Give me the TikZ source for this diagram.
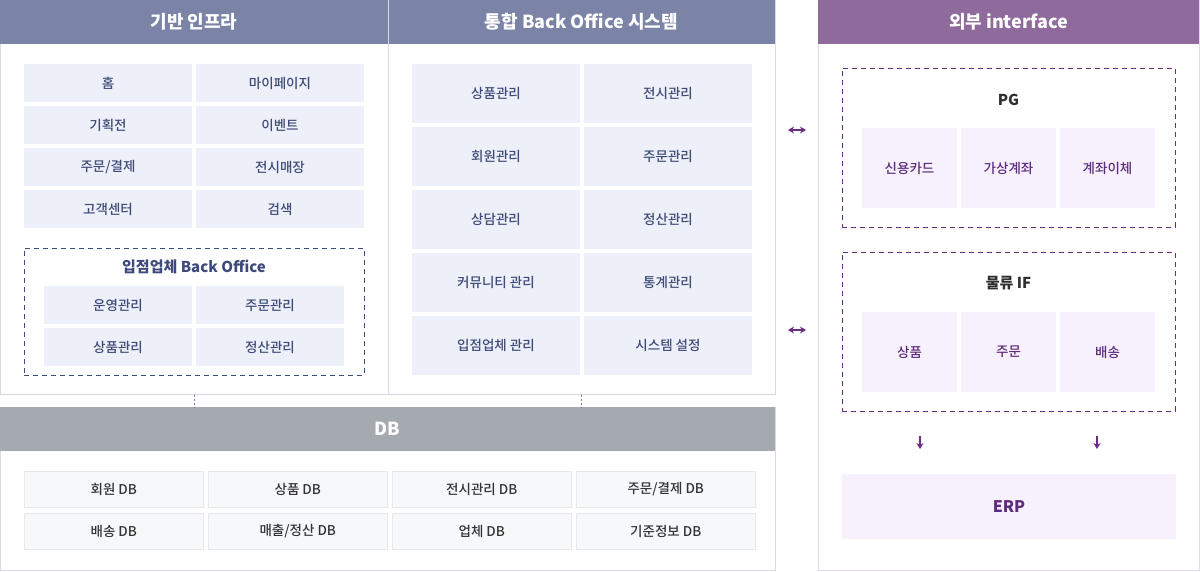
\documentclass[tikz,border=0pt]{standalone}
\usepackage{fontspec}
\setmainfont{Noto Sans CJK KR}
\newfontfamily\medfont{Noto Sans CJK KR Medium}
\usetikzlibrary{arrows.meta}
\definecolor{headnavy}{HTML}{7B84A6}
\definecolor{panelline}{HTML}{D6DAE4}
\definecolor{itemfill}{HTML}{EDF0F9}
\definecolor{itemtext}{HTML}{3F4B78}
\definecolor{groupnavy}{HTML}{3E4A7C}
\definecolor{dbhead}{HTML}{A5A9B0}
\definecolor{dbfill}{HTML}{F7F8FA}
\definecolor{dbline}{HTML}{E6E8EC}
\definecolor{dbtext}{HTML}{333333}
\definecolor{ifhead}{HTML}{8F6A9C}
\definecolor{ifpanel}{HTML}{E2D8EA}
\definecolor{iffill}{HTML}{F6F1FC}
\definecolor{iftext}{HTML}{5E2B7E}
\definecolor{ifline}{HTML}{6B2C85}
\definecolor{titledark}{HTML}{303030}

\begin{document}
\begin{tikzpicture}[x=1pt,y=-1pt,
  every node/.style={inner sep=0pt,font=\fontsize{13.5}{15}\medfont},
  panel/.style={draw=#1,line width=1pt,fill=white},
  head/.style={fill=#1,text=white,font=\fontsize{18}{20}\selectfont\bfseries},
  item/.style={fill=itemfill,text=itemtext,minimum width=168,minimum height=38},
  tall/.style={item,minimum height=59},
  group/.style={draw=#1,line width=1pt,dash pattern=on 5pt off 4pt},
  grouptitle/.style={text=#1,font=\fontsize{15}{17}\selectfont\bfseries},
  dbitem/.style={fill=dbfill,draw=dbline,text=dbtext,minimum width=178.5,minimum height=36},
  ifitem/.style={fill=iffill,text=iftext,minimum width=95,minimum height=80},
  link/.style={draw=groupnavy!70,line width=1pt,dash pattern=on 2pt off 2pt},
  flow/.style={draw=ifline,line width=1.3pt,-{Stealth[length=6pt,width=7pt]}},
  both/.style={flow,{Stealth[length=6pt,width=7pt]}-{Stealth[length=6pt,width=7pt]}}]

  \useasboundingbox (0,0) rectangle (1200,571);

  % 기반 인프라 / 통합 Back Office
  \node[panel=panelline,minimum width=387.5,minimum height=393.5] (infra) at (194.25,197.25) {};
  \node[panel=panelline,minimum width=387,minimum height=393.5] (bo) at (581.5,197.25) {};
  \node[head=headnavy,minimum width=388,minimum height=44] (infrahead) at (194,22) {기반 인프라};
  \node[head=headnavy,minimum width=387,minimum height=44] (bohead) at (581.5,22) {통합 Back Office 시스템};
  \draw[panelline,line width=1pt] (infrahead.north east) -- (infrahead.south east);

  \node[item] (home) at (108,83) {홈};
  \node[item] (mypage) at (280,83) {마이페이지};
  \node[item] (plan) at (108,125) {기획전};
  \node[item] (event) at (280,125) {이벤트};
  \node[item] (order) at (108,167) {주문/결제};
  \node[item] (shop) at (280,167) {전시매장};
  \node[item] (cs) at (108,209) {고객센터};
  \node[item] (search) at (280,209) {검색};

  \node[group=groupnavy,minimum width=340,minimum height=127] (vendor) at (194,311.5) {};
  \node[grouptitle=groupnavy] (vendortitle) at (194,267) {입점업체 Back Office};
  \node[item,minimum width=148] (vops) at (118,305) {운영관리};
  \node[item,minimum width=148] (vorder) at (270,305) {주문관리};
  \node[item,minimum width=148] (vgoods) at (118,347) {상품관리};
  \node[item,minimum width=148] (vcalc) at (270,347) {정산관리};

  \node[tall] (goods) at (496,93.5) {상품관리};
  \node[tall] (display) at (668,93.5) {전시관리};
  \node[tall] (member) at (496,156.5) {회원관리};
  \node[tall] (orders) at (668,156.5) {주문관리};
  \node[tall] (counsel) at (496,219.5) {상담관리};
  \node[tall] (calc) at (668,219.5) {정산관리};
  \node[tall] (community) at (496,282.5) {커뮤니티 관리};
  \node[tall] (stats) at (668,282.5) {통계관리};
  \node[tall] (vendors) at (496,345.5) {입점업체 관리};
  \node[tall] (system) at (668,345.5) {시스템 설정};

  % DB
  \node[panel=panelline,minimum width=774.5,minimum height=163] (db) at (387.75,488.5) {};
  \node[head=dbhead,minimum width=775,minimum height=44] (dbheader) at (387.5,429) {DB};
  \draw[link] (infra.south) -- (infra.south |- dbheader.north);
  \draw[link] (bo.south) -- (bo.south |- dbheader.north);

  \node[dbitem] (memberdb) at (113.75,489.5) {회원 DB};
  \node[dbitem] (goodsdb) at (297.75,489.5) {상품 DB};
  \node[dbitem] (displaydb) at (481.75,489.5) {전시관리 DB};
  \node[dbitem] (orderdb) at (665.75,489.5) {주문/결제 DB};
  \node[dbitem] (shipdb) at (113.75,531.5) {배송 DB};
  \node[dbitem] (salesdb) at (297.75,531.5) {매출/정산 DB};
  \node[dbitem] (vendordb) at (481.75,531.5) {업체 DB};
  \node[dbitem] (basedb) at (665.75,531.5) {기준정보 DB};

  % 외부 interface
  \node[panel=ifpanel,minimum width=380.5,minimum height=569.5] (ext) at (1008.75,285.25) {};
  \node[head=ifhead,minimum width=381,minimum height=44] (exthead) at (1008.5,22) {외부 interface};

  \node[group=ifline,minimum width=333,minimum height=159] (pg) at (1008.5,147.5) {};
  \node[grouptitle=titledark] (pgtitle) at (1008.5,100) {PG};
  \node[ifitem] (card) at (909.5,168) {신용카드};
  \node[ifitem] (vaccount) at (1008.5,168) {가상계좌};
  \node[ifitem] (transfer) at (1107.5,168) {계좌이체};

  \node[group=ifline,minimum width=333,minimum height=159] (logis) at (1008.5,331.5) {};
  \node[grouptitle=titledark] (logistitle) at (1008.5,283) {물류 IF};
  \node[ifitem] (lgoods) at (909.5,352) {상품};
  \node[ifitem] (lorder) at (1008.5,352) {주문};
  \node[ifitem] (lship) at (1107.5,352) {배송};

  \node[fill=iffill,text=iftext,minimum width=334,minimum height=65,font=\fontsize{16}{18}\selectfont\bfseries] (erp) at (1009,506.5) {ERP};

  \coordinate (pgl) at (788,130);
  \coordinate (pgr) at (806,130);
  \coordinate (lgl) at (788,330);
  \coordinate (lgr) at (806,330);
  \draw[both] (pgl) -- (pgr);
  \draw[both] (lgl) -- (lgr);

  \coordinate (d1) at (920,436);
  \coordinate (d2) at (1097,436);
  \draw[flow] (d1) -- (d1 |- 0,449);
  \draw[flow] (d2) -- (d2 |- 0,449);
\end{tikzpicture}
\end{document}
